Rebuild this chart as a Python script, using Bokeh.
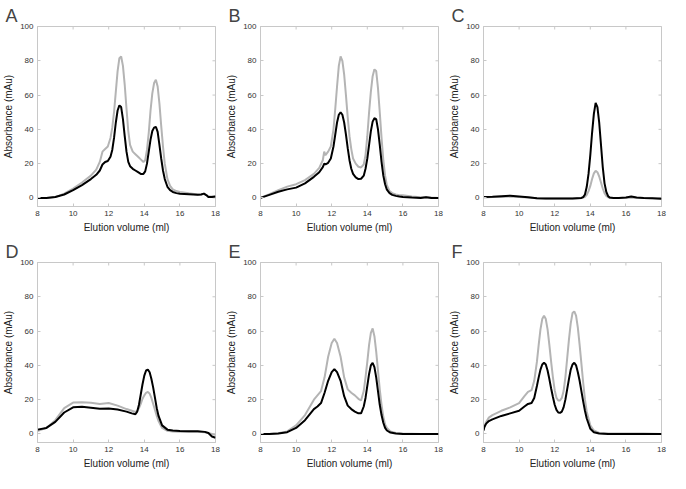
from bokeh.plotting import figure
from bokeh.layouts import column, row
from bokeh.models import Range1d, FixedTicker
from bokeh.embed import file_html
from bokeh.resources import INLINE
import math

# ---- data (elution volume in ml, absorbance in mAu) ----
xa = [8, 8.5, 9, 9.5, 10, 10.5, 11, 11.3, 11.5, 11.65, 11.8, 11.95, 12.1, 12.2, 12.3, 12.4, 12.5, 12.6, 12.7,
      12.8, 12.9, 13.0, 13.1, 13.2, 13.35, 13.5, 13.65, 13.8, 13.95, 14.05, 14.15, 14.25, 14.35, 14.45, 14.55,
      14.65, 14.75, 14.85, 14.95, 15.05, 15.15, 15.3, 15.45, 15.6, 15.8, 16, 16.5, 17, 17.2, 17.35, 17.5, 17.6,
      17.8, 18]
a_black = [0, 0, 0.5, 2, 4.5, 7.5, 11, 13.5, 16, 19.5, 21, 21.5, 24, 28, 35, 44, 51, 54, 53,
           46, 36, 27, 21, 18.5, 17, 16, 15, 14, 14, 15.5, 20, 27, 34, 39, 41,
           41.5, 38.5, 31, 23, 16, 11, 6.5, 4.5, 3.5, 2.8, 2.5, 2.2, 1.8, 2, 2.5, 1.5, 0.6,
           0.5, 0.8]
a_gray = [0, 0, 0.5, 2.5, 5.5, 9, 13, 16.5, 21, 27, 28.5, 30, 35, 41, 50, 62, 74, 81.5, 82.5,
          77, 66, 52, 39, 31, 27, 25.5, 24, 22.5, 21, 22, 28, 38, 51, 61, 67,
          69, 65, 55, 42, 30, 20, 11, 7, 5, 4, 3.5, 2.7, 2, 2.2, 2.5, 1.5, 0.8,
          0.8, 0.8]

xb = [8, 8.5, 9, 9.5, 10, 10.5, 11, 11.3, 11.5, 11.58, 11.65, 11.8, 11.95, 12.1, 12.2, 12.3, 12.4, 12.5,
      12.6, 12.7, 12.8, 12.9, 13.0, 13.1, 13.2, 13.35, 13.5, 13.65, 13.8, 13.9, 14.0, 14.1, 14.2, 14.3, 14.4,
      14.5, 14.6, 14.7, 14.8, 14.9, 15.0, 15.1, 15.25, 15.4, 15.6, 15.8, 16, 16.5, 17, 17.3, 17.6, 18]
b_black = [0, 1.8, 3.6, 5, 6, 8.5, 12.3, 15, 18, 20, 19.5, 20.5, 23, 30, 37, 44, 48.5, 50,
           48.5, 44, 37, 29, 22, 17, 14, 12, 11, 11.2, 13, 17, 23, 31, 39, 44.5, 46.5,
           46, 40, 31, 21, 13, 8, 4.8, 2.8, 1.8, 1.2, 0.8, 0.6, 0.2, 0, 0.4, 0, 0]
b_gray = [0, 2.2, 4.5, 6.6, 8, 10.4, 14, 17.5, 22, 27, 25, 27, 30, 40, 52, 65, 77, 82.5,
          80, 72, 60, 47, 36, 28.5, 23, 20, 18.2, 17.8, 19.5, 25, 36, 50, 62, 71, 75,
          74, 64, 50, 35, 22, 13, 7.5, 4, 2.8, 2, 1.6, 1.5, 0.8, 0.4, 0.5, 0.2, 0]

xc = [8, 8.5, 9, 9.5, 10, 10.5, 11, 11.5, 12, 12.5, 13, 13.5, 13.6, 13.7, 13.8, 13.9, 14.0, 14.1, 14.2,
      14.3, 14.4, 14.5, 14.6, 14.7, 14.8, 14.9, 15.0, 15.1, 15.3, 15.6, 16, 16.3, 16.6, 17, 17.5, 18]
c_black = [0.5, 0.7, 1, 1.3, 0.9, 0.4, -0.2, -0.4, -0.4, -0.3, -0.3, 0, 0.5, 2, 6.5, 14, 25, 38, 49,
           55.5, 53, 44, 31, 18, 8.5, 3.5, 1, 0.2, 0, 0, 0.2, 0.8, 0.2, 0, -0.2, -0.5]
c_gray = [0.3, 0.5, 0.6, 0.8, 0.6, 0.3, -0.2, -0.3, -0.3, -0.3, -0.3, 0, 0.2, 0.6, 1.8, 4, 7, 11, 14.3,
          15.8, 15, 12.5, 9, 5.5, 2.8, 1.2, 0.4, 0, 0, 0, 0.1, 0.3, 0.1, 0, -0.2, -0.3]

xd = [8, 8.5, 9, 9.5, 10, 10.5, 11, 11.5, 12, 12.5, 13, 13.3, 13.5, 13.6, 13.7, 13.8, 13.9, 14.0, 14.1,
      14.2, 14.3, 14.4, 14.5, 14.6, 14.7, 14.8, 15.0, 15.3, 15.6, 16, 16.5, 17, 17.4, 17.6, 17.8, 18]
d_black = [2.5, 3.5, 7, 12.5, 15.5, 15.8, 15.3, 14.7, 14.8, 14.2, 13, 12, 11.5, 13, 17, 23, 29, 34, 37,
           37.5, 36, 32, 27, 21, 15, 10.5, 5, 2.5, 2, 1.7, 1.6, 1.6, 1.2, 0.5, -1.5, -2.2]
d_gray = [1.7, 3.5, 8, 15, 18.3, 18.5, 18.2, 17.5, 18, 16.5, 14.5, 13.5, 12.8, 13.5, 15, 17.5, 20.5, 22.5, 24,
          24.5, 23.5, 21, 17.5, 14, 10.5, 7.5, 3.5, 1.8, 1.4, 1.3, 1.2, 1.2, 1, 0.5, 0, -0.5]

xe = [8, 8.5, 9, 9.5, 10, 10.5, 11, 11.2, 11.4, 11.6, 11.8, 12.0, 12.15, 12.3, 12.5, 12.7, 12.9, 13.1,
      13.3, 13.5, 13.65, 13.8, 13.9, 14.0, 14.1, 14.2, 14.3, 14.4, 14.5, 14.6, 14.7, 14.8, 14.9, 15.0, 15.1,
      15.3, 15.6, 16, 17, 18]
e_black = [0, 0, 0.3, 1, 3.5, 8, 14.5, 16, 18, 24, 31, 36, 37.8, 36, 31, 22, 16.5, 14.5,
           13, 12, 12, 16, 21, 28, 35, 40, 41.5, 39, 33, 25, 17, 11, 6.5, 3.5, 2,
           0.8, 0.2, 0, 0, 0]
e_gray = [0, 0, 0.4, 1.5, 5, 11, 20, 22.5, 25, 33, 45, 53, 55.5, 53, 45, 33, 26, 24,
          22.5, 20.5, 19.5, 25, 33, 42, 52, 59, 61.5, 57, 48, 37, 26, 17, 10, 5.5, 3.5,
          1.5, 0.5, 0.2, 0, 0]

xf = [8, 8.05, 8.15, 8.3, 8.5, 9, 9.5, 10, 10.3, 10.5, 10.7, 10.85, 11.0, 11.1, 11.2, 11.3, 11.4, 11.5,
      11.6, 11.7, 11.8, 11.9, 12.0, 12.1, 12.2, 12.3, 12.4, 12.5, 12.6, 12.7, 12.8, 12.9, 13.0, 13.1, 13.2,
      13.3, 13.4, 13.5, 13.6, 13.7, 13.8, 14.0, 14.2, 14.5, 15, 16, 17, 18]
f_black = [2, 4, 6, 7.5, 8.5, 10.5, 12, 13.5, 16, 17.5, 18, 21, 28, 33, 37.5, 40.5, 41.5, 40.5,
           37, 32, 26.5, 21.5, 17, 14, 12.5, 12.3, 13, 15.5, 20, 26, 32, 37.5, 40.5, 41.5, 40,
           36, 31, 25, 19, 13.5, 9, 3, 1, 0.3, 0, 0, 0, 0]
f_gray = [2, 4.5, 7, 9.5, 11, 13.5, 15.5, 18, 22, 24.5, 25.5, 31, 42, 52, 61, 67, 69, 67,
          61, 52, 42, 33, 25.5, 21, 19.5, 19.5, 21, 25, 33, 44, 55, 64.5, 70.5, 71.5, 69,
          62, 52, 41, 30, 20, 13, 5, 2, 0.6, 0.2, 0.3, 0.3, 0]

letters = ["A", "B", "C", "D", "E", "F"]
x_ticks = [8, 10, 12, 14, 16, 18]
y_ticks = [0, 20, 40, 60, 80, 100]
x_min, x_max = 8, 18
y_min, y_max = -5, 100
x_title = "Elution volume (ml)"
y_title = "Absorbance (mAu)"

FONT = "Liberation Sans"
FRAME = "#c8c8c8"
GRAY = "#b4b4b4"


def style_axis(ax):
    ax.axis_line_color = FRAME
    ax.major_tick_line_color = FRAME
    ax.major_tick_in = 3
    ax.major_tick_out = 0
    ax.minor_tick_line_color = None
    ax.major_label_text_font = FONT
    ax.major_label_text_font_size = "8px"
    ax.major_label_text_color = "#333333"
    ax.major_label_standoff = 4
    ax.axis_label_text_font = FONT
    ax.axis_label_text_font_style = "normal"
    ax.axis_label_text_font_size = "10px"
    ax.axis_label_text_color = "#222222"
    ax.axis_label_standoff = 3


def make(letter, xs, blk, gry):
    p = figure(width=223, height=236, output_backend="svg", toolbar_location=None,
               x_range=Range1d(x_min, x_max), y_range=Range1d(y_min, y_max),
               min_border_left=30, min_border_right=8, min_border_top=26, min_border_bottom=30)
    p.title.text = letter
    p.title.text_font = FONT
    p.title.text_font_size = "18px"
    p.title.text_font_style = "normal"
    p.title.align = "left"
    p.title.offset = -32
    p.title.standoff = 2
    p.xgrid.visible = False
    p.ygrid.visible = False
    p.outline_line_color = FRAME
    # inward tick marks on the top and right frame edges (clipped to the frame)
    p.scatter(x_ticks, [y_max] * len(x_ticks), marker="dash", angle=math.pi / 2, size=6,
              line_color=FRAME, line_width=1)
    p.scatter([x_max] * len(y_ticks), y_ticks, marker="dash", size=6,
              line_color=FRAME, line_width=1)
    p.line(xs, gry, color=GRAY, line_width=2)
    p.line(xs, blk, color="black", line_width=2)
    p.xaxis.ticker = FixedTicker(ticks=x_ticks)
    p.yaxis.ticker = FixedTicker(ticks=y_ticks)
    p.xaxis.axis_label = x_title
    p.yaxis.axis_label = y_title
    for ax in p.xaxis + p.yaxis:
        style_axis(ax)
    return p


data = [(xa, a_black, a_gray), (xb, b_black, b_gray), (xc, c_black, c_gray),
        (xd, d_black, d_gray), (xe, e_black, e_gray), (xf, f_black, f_gray)]
figs = [make(l, *d) for l, d in zip(letters, data)]
layout = column(row(*figs[:3]), row(*figs[3:]))

open("out.html", "w").write(file_html(layout, INLINE))
